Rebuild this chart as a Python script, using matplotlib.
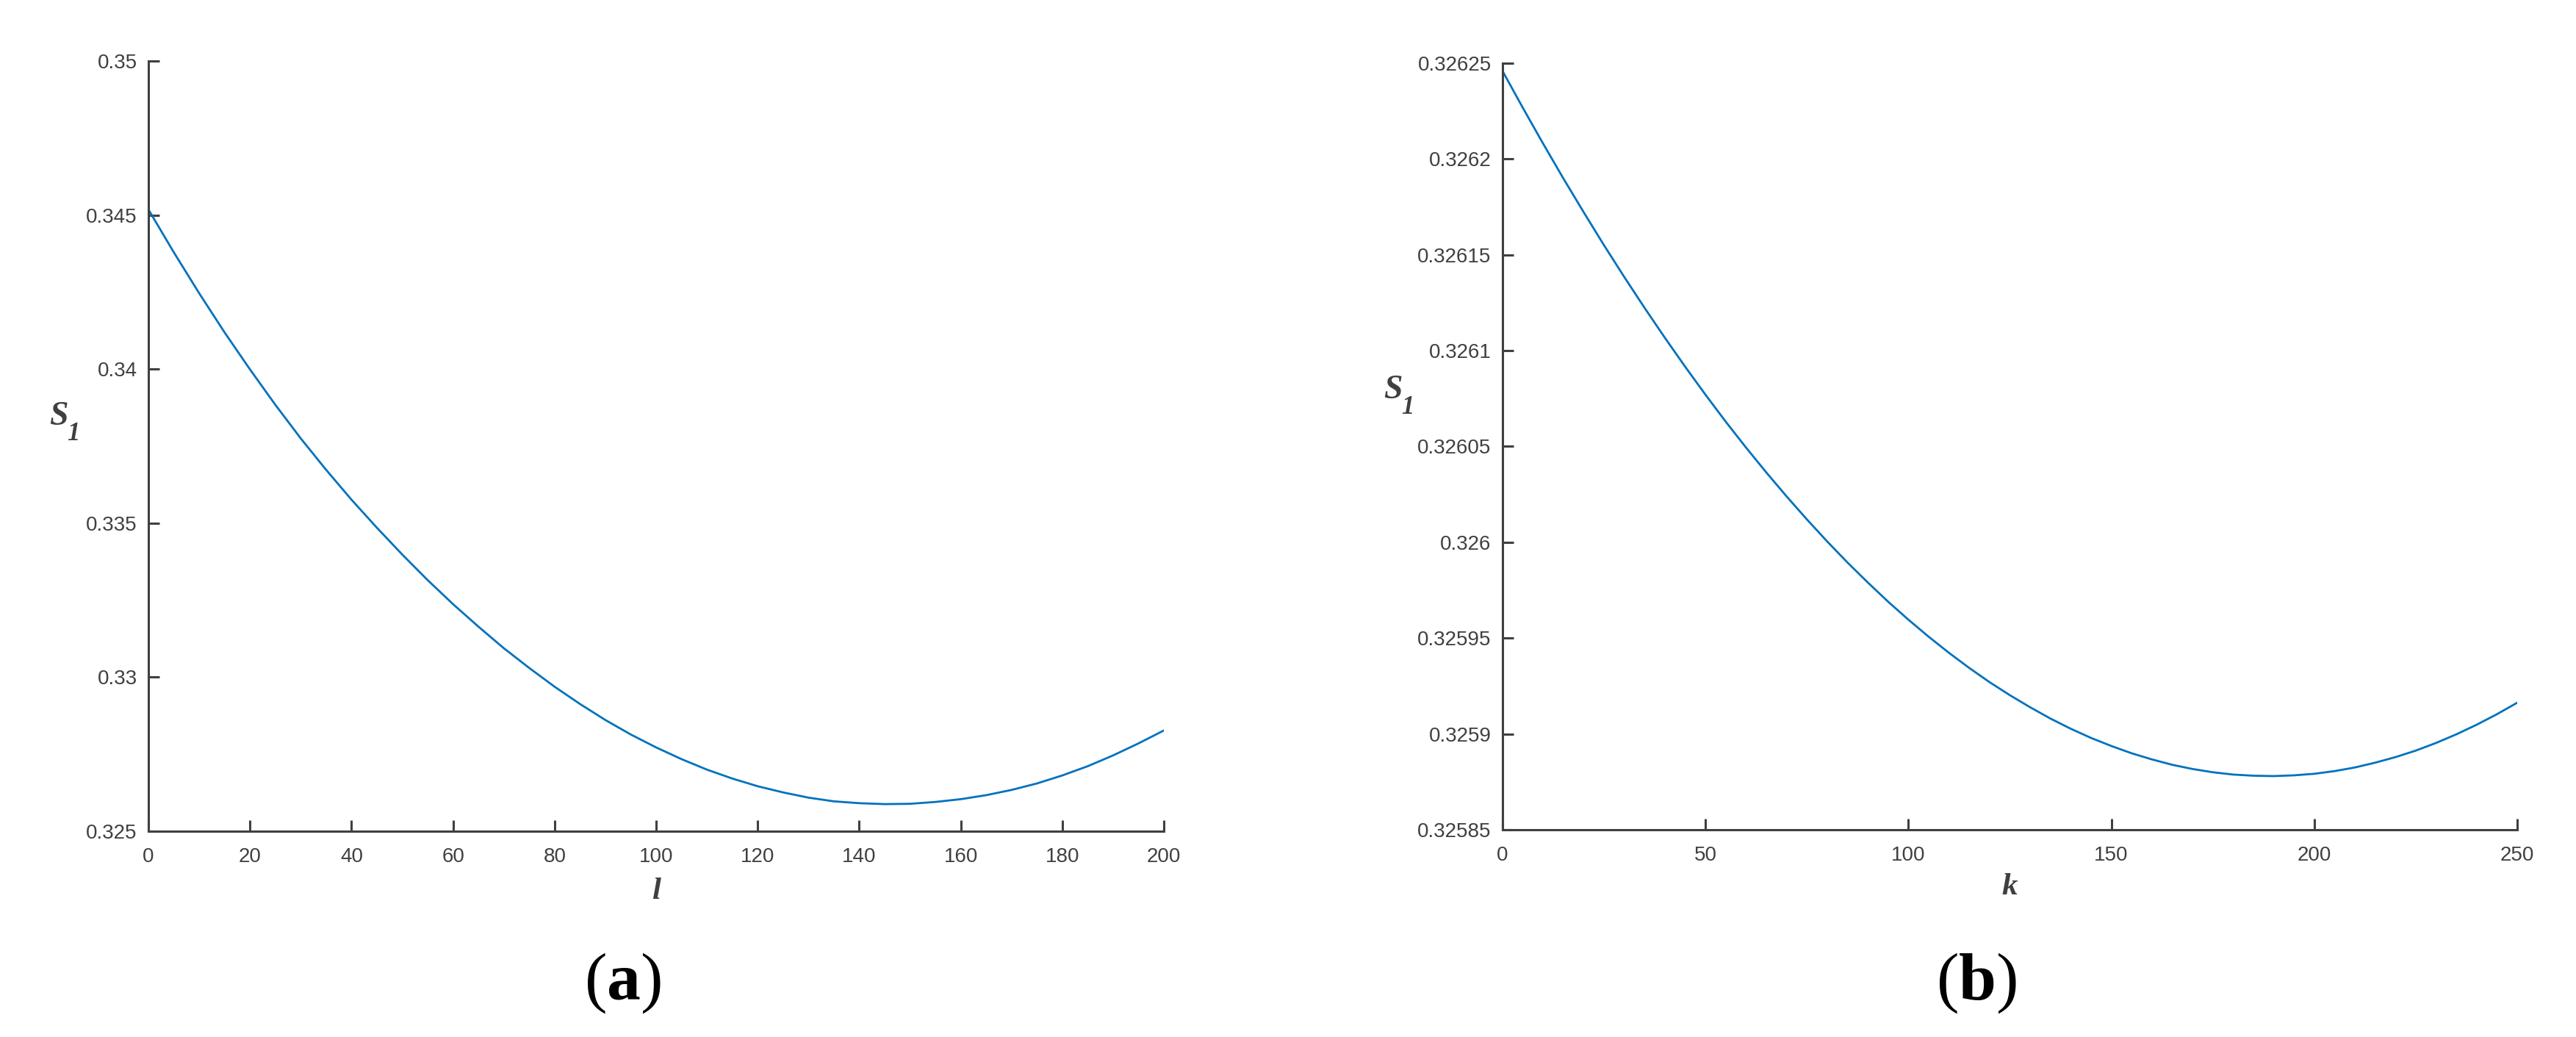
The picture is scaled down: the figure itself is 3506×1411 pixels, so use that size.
import numpy as np
import matplotlib
matplotlib.use("Agg")
import matplotlib.pyplot as plt

# values
l_vals = [0, 5, 10, 15, 20, 25, 30, 35, 40, 45, 50, 55, 60, 65, 70, 75,
          80, 85, 90, 95, 100, 105, 110, 115, 120, 125, 130, 135, 140,
          145, 150, 155, 160, 165, 170, 175, 180, 185, 190, 195, 200]
s1_l = [0.34518, 0.34379, 0.34246, 0.34119, 0.33999, 0.33884, 0.33775,
        0.33673, 0.33576, 0.33485, 0.33398, 0.33315, 0.33237, 0.33164,
        0.33094, 0.33030, 0.32969, 0.32913, 0.32861, 0.32814, 0.32772,
        0.32734, 0.32700, 0.32671, 0.32646, 0.32626, 0.32609, 0.32597,
        0.32591, 0.32588, 0.32589, 0.32595, 0.32604, 0.32617, 0.32634,
        0.32655, 0.32681, 0.32711, 0.32746, 0.32785, 0.32827]

k_vals = [0, 5, 10, 15, 20, 25, 30, 35, 40, 45, 50, 55, 60, 65, 70, 75,
          80, 85, 90, 95, 100, 105, 110, 115, 120, 125, 130, 135, 140,
          145, 150, 155, 160, 165, 170, 175, 180, 185, 190, 195, 200,
          205, 210, 215, 220, 225, 230, 235, 240, 245, 250]
s1_k = [0.3262459, 0.3262267, 0.3262080, 0.3261898, 0.3261722, 0.3261550,
        0.3261384, 0.3261223, 0.3261067, 0.3260916, 0.3260770, 0.3260629,
        0.3260494, 0.3260364, 0.3260239, 0.3260119, 0.3260004, 0.3259894,
        0.3259790, 0.3259690, 0.3259596, 0.3259507, 0.3259423, 0.3259344,
        0.3259270, 0.3259202, 0.3259139, 0.3259080, 0.3259027, 0.3258979,
        0.3258937, 0.3258899, 0.3258867, 0.3258839, 0.3258817, 0.3258800,
        0.3258788, 0.3258782, 0.3258780, 0.3258784, 0.3258792, 0.3258806,
        0.3258825, 0.3258850, 0.3258879, 0.3258913, 0.3258953, 0.3258998,
        0.3259048, 0.3259103, 0.3259163]

l_ticks = [0, 20, 40, 60, 80, 100, 120, 140, 160, 180, 200]
l_yticks = [0.325, 0.33, 0.335, 0.34, 0.345, 0.35]
k_ticks = [0, 50, 100, 150, 200, 250]
k_yticks = [0.32585, 0.3259, 0.32595, 0.326, 0.32605, 0.3261,
            0.32615, 0.3262, 0.32625]

plt.rcParams['font.family'] = ['Liberation Sans', 'DejaVu Sans']
plt.rcParams['mathtext.fontset'] = 'custom'
plt.rcParams['mathtext.rm'] = 'Liberation Serif'
plt.rcParams['mathtext.it'] = 'Liberation Serif:italic'
plt.rcParams['mathtext.bf'] = 'Liberation Serif:bold'

GRAY = '#404040'
BLUE = '#0072BD'

fig = plt.figure(figsize=(35.06, 14.11), dpi=100)
ax1 = fig.add_axes([0.05762, 0.19844, 0.39418, 0.74274])
ax2 = fig.add_axes([0.58329, 0.19986, 0.39390, 0.73920])


def style_axis(ax, xticks, yticks, xlim, ylim):
    ax.set_xlim(*xlim)
    ax.set_ylim(*ylim)
    ax.set_xticks(xticks)
    ax.set_yticks(yticks)
    ax.set_xticklabels([f'{v:g}' for v in xticks])
    ax.set_yticklabels([f'{v:g}' for v in yticks])
    for side in ['top', 'right']:
        ax.spines[side].set_visible(False)
    for side in ['left', 'bottom']:
        ax.spines[side].set_color(GRAY)
        ax.spines[side].set_linewidth(2.2)
    ax.tick_params(direction='in', length=10.5, width=2.2, color=GRAY,
                   labelcolor=GRAY, labelsize=20)
    ax.tick_params(axis='x', pad=16)
    ax.tick_params(axis='y', pad=11)


ax1.plot(l_vals, s1_l, color=BLUE, linewidth=2.0)
style_axis(ax1, l_ticks, l_yticks, (0, 200), (0.325, 0.35))

ax2.plot(k_vals, s1_k, color=BLUE, linewidth=2.0)
style_axis(ax2, k_ticks, k_yticks, (0, 250), (0.32585, 0.32625))

lab = dict(family='Liberation Serif', style='italic', weight='bold',
           color=GRAY)

# x labels
fig.text(0.2547, 0.1332, 'l', ha='center', va='baseline', fontsize=31, **lab)
fig.text(0.7801, 0.1375, 'k', ha='center', va='baseline', fontsize=31, **lab)

# y labels: S with subscript 1
fig.text(0.0191, 0.5904, 'S', ha='left', va='baseline', fontsize=33, **lab)
fig.text(0.0260, 0.5755, '1', ha='left', va='baseline', fontsize=25, **lab)
fig.text(0.5371, 0.6159, 'S', ha='left', va='baseline', fontsize=33, **lab)
fig.text(0.5440, 0.6010, '1', ha='left', va='baseline', fontsize=25, **lab)

# panel captions
fig.text(0.2416, 0.0517, r'$\mathrm{(}\mathbf{a}\mathrm{)}$', ha='center',
         va='center', fontsize=66, color='black')
fig.text(0.7673, 0.0517, r'$\mathrm{(}\mathbf{b}\mathrm{)}$', ha='center',
         va='center', fontsize=66, color='black')

fig.savefig('out.png', dpi=100, facecolor='white')
